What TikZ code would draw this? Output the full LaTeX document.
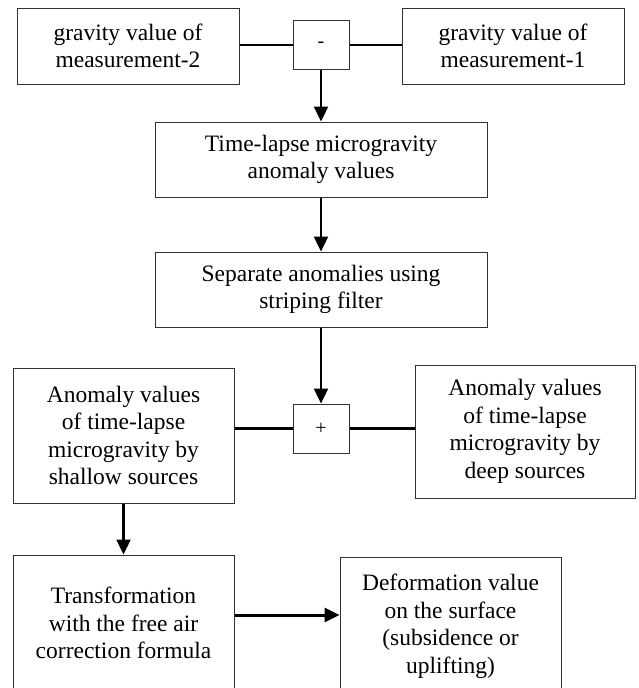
\documentclass[tikz,border=0pt]{standalone}
\usepackage{fontspec}
\setmainfont{Liberation Serif}
\usetikzlibrary{arrows.meta}

\begin{document}
\begin{tikzpicture}[x=1pt,y=-1pt,
    blok/.style={draw=black!80,line width=1pt,inner sep=0pt,align=center,
      font=\fontsize{23.5}{27.5}\selectfont},
    op/.style={blok,minimum width=56pt,minimum height=49pt,font=\fontsize{20}{20}\selectfont},
    link/.style={line width=2.4pt},
    arr/.style={link,-{Triangle[width=14pt,length=15pt]}}]
          \useasboundingbox (0,0) rectangle (638,688);
          \node[blok,minimum width=222pt,minimum height=76pt] (meas2) at (128,46) {gravity value of\\measurement-2};
          \node[op] (minus) at (321,45) {-};
          \node[blok,minimum width=222pt,minimum height=76pt] (meas1) at (513,46) {gravity value of\\measurement-1};
          \node[blok,minimum width=332pt,minimum height=75pt] (lapse) at (321,159.5) {Time-lapse microgravity\\anomaly values};
          \node[blok,minimum width=332pt,minimum height=75pt] (separate) at (321,289.5) {Separate anomalies using\\striping filter};
          \node[blok,minimum width=221pt,minimum height=135pt] (shallow) at (123.5,435.5) {Anomaly values\\of time-lapse\\microgravity by\\shallow sources};
          \node[op] (plus) at (321,428.5) {+};
          \node[blok,minimum width=220pt,minimum height=133pt] (deep) at (525,431.5) {Anomaly values\\of time-lapse\\microgravity by\\deep sources};
          \node[blok,minimum width=221pt,minimum height=136pt] (freeair) at (123.5,623) {Transformation\\with the free air\\correction formula};
          \node[blok,minimum width=221pt,minimum height=139pt] (deform) at (450.5,626.5) {Deformation value\\on the surface\\(subsidence or\\uplifting)};
          \draw[link] (meas2.east |- minus) -- (minus.west);
          \draw[link] (minus.east) -- (meas1.west |- minus);
          \draw[arr] (minus) -- (lapse);
          \draw[arr] (lapse) -- (separate);
          \draw[arr] (separate) -- (plus);
          \draw[link] (shallow.east |- plus) -- (plus.west);
          \draw[link] (plus.east) -- (deep.west |- plus);
          \draw[arr] (shallow) -- (freeair);
          \draw[arr,line width=3pt] ([yshift=8pt]freeair.east) -- ([yshift=8pt]freeair.east -| deform.west);
        \end{tikzpicture}
\end{document}
